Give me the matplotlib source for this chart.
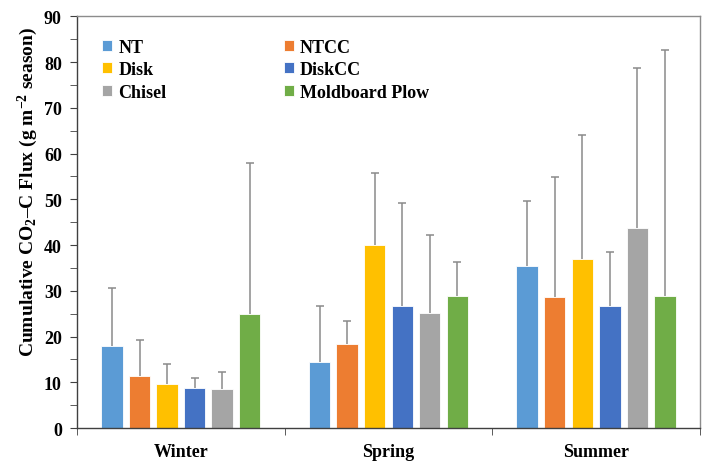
import matplotlib
matplotlib.use("Agg")
import matplotlib.pyplot as plt
import numpy as np
from matplotlib.ticker import MultipleLocator, FixedLocator

plt.rcParams['font.family'] = ['Liberation Serif', 'DejaVu Serif']
plt.rcParams['font.weight'] = 'bold'
plt.rcParams['mathtext.fontset'] = 'custom'
plt.rcParams['mathtext.rm'] = 'Liberation Serif:bold'
plt.rcParams['mathtext.it'] = 'Liberation Serif:bold'
plt.rcParams['mathtext.bf'] = 'Liberation Serif:bold'

seasons = ["Winter", "Spring", "Summer"]
treatments = ["NT", "NTCC", "Disk", "DiskCC", "Chisel", "Moldboard Plow"]
colors = ["#5B9BD5", "#ED7D31", "#FFC000", "#4472C4", "#A5A5A5", "#70AD47"]

# values per treatment across seasons (Winter, Spring, Summer)
NT = [18.0, 14.4, 35.4]
NTCC = [11.4, 18.4, 28.6]
Disk = [9.6, 39.9, 36.9]
DiskCC = [8.7, 26.6, 26.6]
Chisel = [8.6, 25.1, 43.8]
Moldboard = [24.9, 28.9, 28.9]

# upper error bar tops (mean + SD)
NT_top = [30.6, 26.7, 49.6]
NTCC_top = [19.3, 23.3, 54.9]
Disk_top = [13.9, 55.8, 64.1]
DiskCC_top = [10.9, 49.2, 38.4]
Chisel_top = [12.3, 42.3, 78.6]
Moldboard_top = [57.9, 36.3, 82.6]

means = [NT, NTCC, Disk, DiskCC, Chisel, Moldboard]
tops = [NT_top, NTCC_top, Disk_top, DiskCC_top, Chisel_top, Moldboard_top]

fig = plt.figure(figsize=(7.2, 4.64), dpi=100)
ax = fig.add_axes([0.107, 0.0754, 0.865, 0.8873])

x = np.arange(len(seasons))
step = 0.1327
width = 0.103
handles = []
for j, (name, m, t, c) in enumerate(zip(treatments, means, tops, colors)):
    xs = x + (j - 2.5) * step
    m = np.array(m)
    err = np.array(t) - m
    b = ax.bar(xs, m, width=width, color=c, edgecolor='white', linewidth=0.6,
               label=name, zorder=2)
    handles.append(b)
    eb = ax.errorbar(xs, m, yerr=[np.zeros_like(err), err], fmt='none',
                     ecolor='#8a8a8a', elinewidth=1.1, capsize=3, capthick=1.1,
                     zorder=1)
    # hide the lower caps (zero-length lower error)
    for cl in eb[1]:
        yd = np.asarray(cl.get_ydata())
        if np.allclose(yd, m):
            cl.set_visible(False)

ax.set_xlim(-0.5, 2.5)
ax.set_ylim(0, 90)
ax.yaxis.set_major_locator(MultipleLocator(10))
ax.yaxis.set_minor_locator(MultipleLocator(5))
ax.set_xticks(x)
ax.set_xticklabels(seasons, fontsize=13, fontweight='bold')
ax.xaxis.set_minor_locator(FixedLocator([-0.5, 0.5, 1.5, 2.5]))
ax.tick_params(axis='x', which='major', length=0, pad=11)
ax.tick_params(axis='x', which='minor', length=5, direction='out', color='#404040')
ax.tick_params(axis='y', which='both', length=5, direction='out', color='#404040',
               labelsize=13, pad=6)
for lab in ax.get_yticklabels():
    lab.set_fontweight('bold')

for s in ['left', 'bottom']:
    ax.spines[s].set_color('#404040')
    ax.spines[s].set_linewidth(1.0)
for s in ['top', 'right']:
    ax.spines[s].set_color('#8c8c8c')
    ax.spines[s].set_linewidth(1.0)

ax.set_ylabel(r"Cumulative CO$_\mathregular{2}$–C Flux (g m$^\mathregular{-2}$ season)",
              fontsize=14, fontweight='bold')
ax.yaxis.set_label_coords(-0.06, 0.575)

order = [0, 2, 4, 1, 3, 5]
leg = ax.legend([handles[i] for i in order], [treatments[i] for i in order],
                ncol=2, loc='upper left', bbox_to_anchor=(0.014, 0.985),
                frameon=False, handlelength=0.55, handleheight=0.55,
                handletextpad=0.35, columnspacing=6.5, labelspacing=0.3,
                prop={'weight': 'bold', 'size': 13})

fig.savefig("out.png", dpi=100)
